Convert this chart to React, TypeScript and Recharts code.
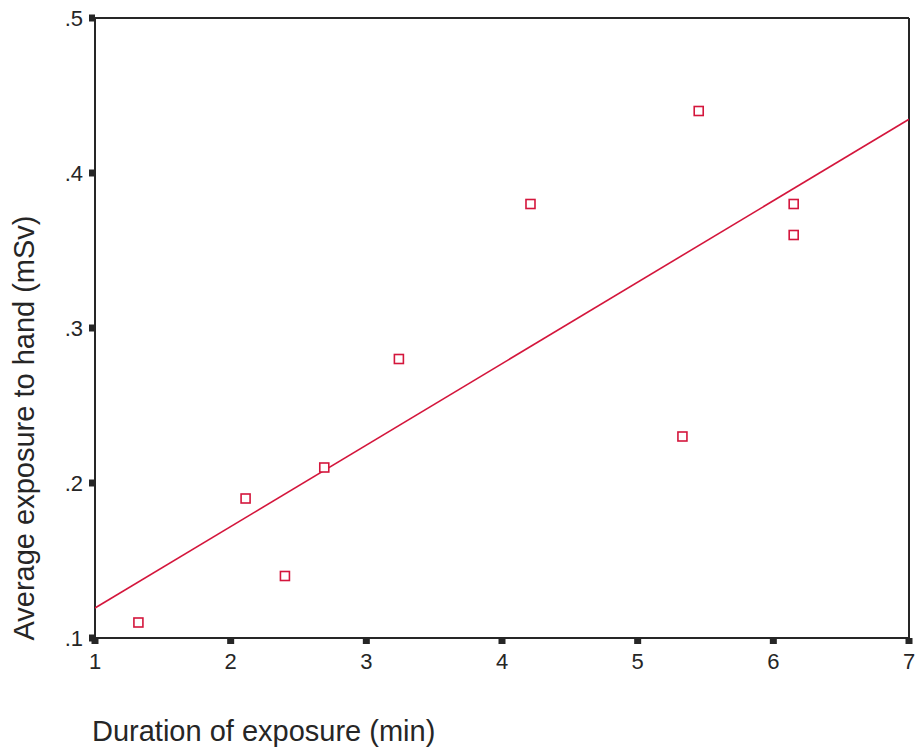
import React from "react"
import {
  ScatterChart,
  Scatter,
  XAxis,
  YAxis,
  ReferenceLine,
} from "recharts"

const durations = [1.32, 2.11, 2.4, 2.69, 3.24, 4.21, 5.33, 5.45, 6.15, 6.15]
const handDoses = [0.11, 0.19, 0.14, 0.21, 0.28, 0.38, 0.23, 0.44, 0.38, 0.36]
const xTicks = [1, 2, 3, 4, 5, 6, 7]
const yTicks = [0.1, 0.2, 0.3, 0.4, 0.5]

const RED = "#d4163c"
const INK = "#262626"

const points = durations.map((x, i) => ({ x, y: handDoses[i] }))

// least squares fit line across the x range
const n = points.length
const mx = durations.reduce((a, b) => a + b, 0) / n
const my = handDoses.reduce((a, b) => a + b, 0) / n
let sxy = 0
let sxx = 0
points.forEach((p) => {
  sxy += (p.x - mx) * (p.y - my)
  sxx += (p.x - mx) * (p.x - mx)
})
const slope = sxy / sxx
const fitLine = [1, 7].map((x) => ({ x, y: my + slope * (x - mx) }))

const fmtY = (v: number) => v.toFixed(1).replace(/^0/, "")

const tickText = { fontSize: 22, fontFamily: "'Liberation Sans', Arial, sans-serif" }

function XTick(props: any) {
  const { x, y, payload } = props
  return (
    <g>
      <rect x={x - 3.5} y={y} width={7} height={6} fill={INK} />
      <text x={x} y={y + 31} textAnchor="middle" fill={INK} style={tickText}>
        {payload.value}
      </text>
    </g>
  )
}

function YTick(props: any) {
  const { x, y, payload } = props
  return (
    <g>
      <rect x={x - 6} y={y - 3.5} width={6} height={7} fill={INK} />
      <text x={x - 12} y={y + 8} textAnchor="end" fill={INK} style={tickText}>
        {fmtY(payload.value)}
      </text>
    </g>
  )
}

function SquareDot(props: any) {
  const { cx, cy } = props
  return (
    <rect x={cx - 4.5} y={cy - 4.5} width={9} height={9} fill="#fff" stroke={RED} strokeWidth={1.6} />
  )
}

export default function App() {
  return (
    <div
      style={{
        position: "absolute",
        left: 0,
        top: 0,
        width: 917,
        height: 751,
        background: "#fff",
        fontFamily: "'Liberation Sans', Arial, sans-serif",
      }}
    >
      <ScatterChart
        width={917}
        height={751}
        margin={{ top: 18, right: 8, left: 35, bottom: 73 }}
      >
        <XAxis
          type="number"
          dataKey="x"
          domain={[1, 7]}
          ticks={xTicks}
          tick={<XTick />}
          tickLine={false}
          tickSize={0}
          tickMargin={0}
          axisLine={{ stroke: INK, strokeWidth: 2 }}
          height={40}
          allowDataOverflow
        />
        <YAxis
          type="number"
          dataKey="y"
          domain={[0.1, 0.5]}
          ticks={yTicks}
          tick={<YTick />}
          tickLine={false}
          tickSize={0}
          tickMargin={0}
          axisLine={{ stroke: INK, strokeWidth: 2 }}
          width={60}
          allowDataOverflow
        />
        <ReferenceLine y={0.5} stroke={INK} strokeWidth={2} />
        <ReferenceLine x={7} stroke={INK} strokeWidth={2} />
        <Scatter
          data={fitLine}
          line={{ stroke: RED, strokeWidth: 1.6 }}
          shape={() => <g />}
          isAnimationActive={false}
        />
        <Scatter data={points} shape={<SquareDot />} isAnimationActive={false} />
      </ScatterChart>
      <div
        style={{
          position: "absolute",
          left: 92,
          top: 717,
          fontSize: 29,
          lineHeight: 1,
          color: INK,
          whiteSpace: "nowrap",
        }}
      >
        Duration of exposure (min)
      </div>
      <div
        style={{
          position: "absolute",
          left: 24,
          top: 428,
          fontSize: 29,
          lineHeight: 1,
          color: INK,
          whiteSpace: "nowrap",
          transform: "translate(-50%, -50%) rotate(-90deg)",
        }}
      >
        Average exposure to hand (mSv)
      </div>
    </div>
  )
}
